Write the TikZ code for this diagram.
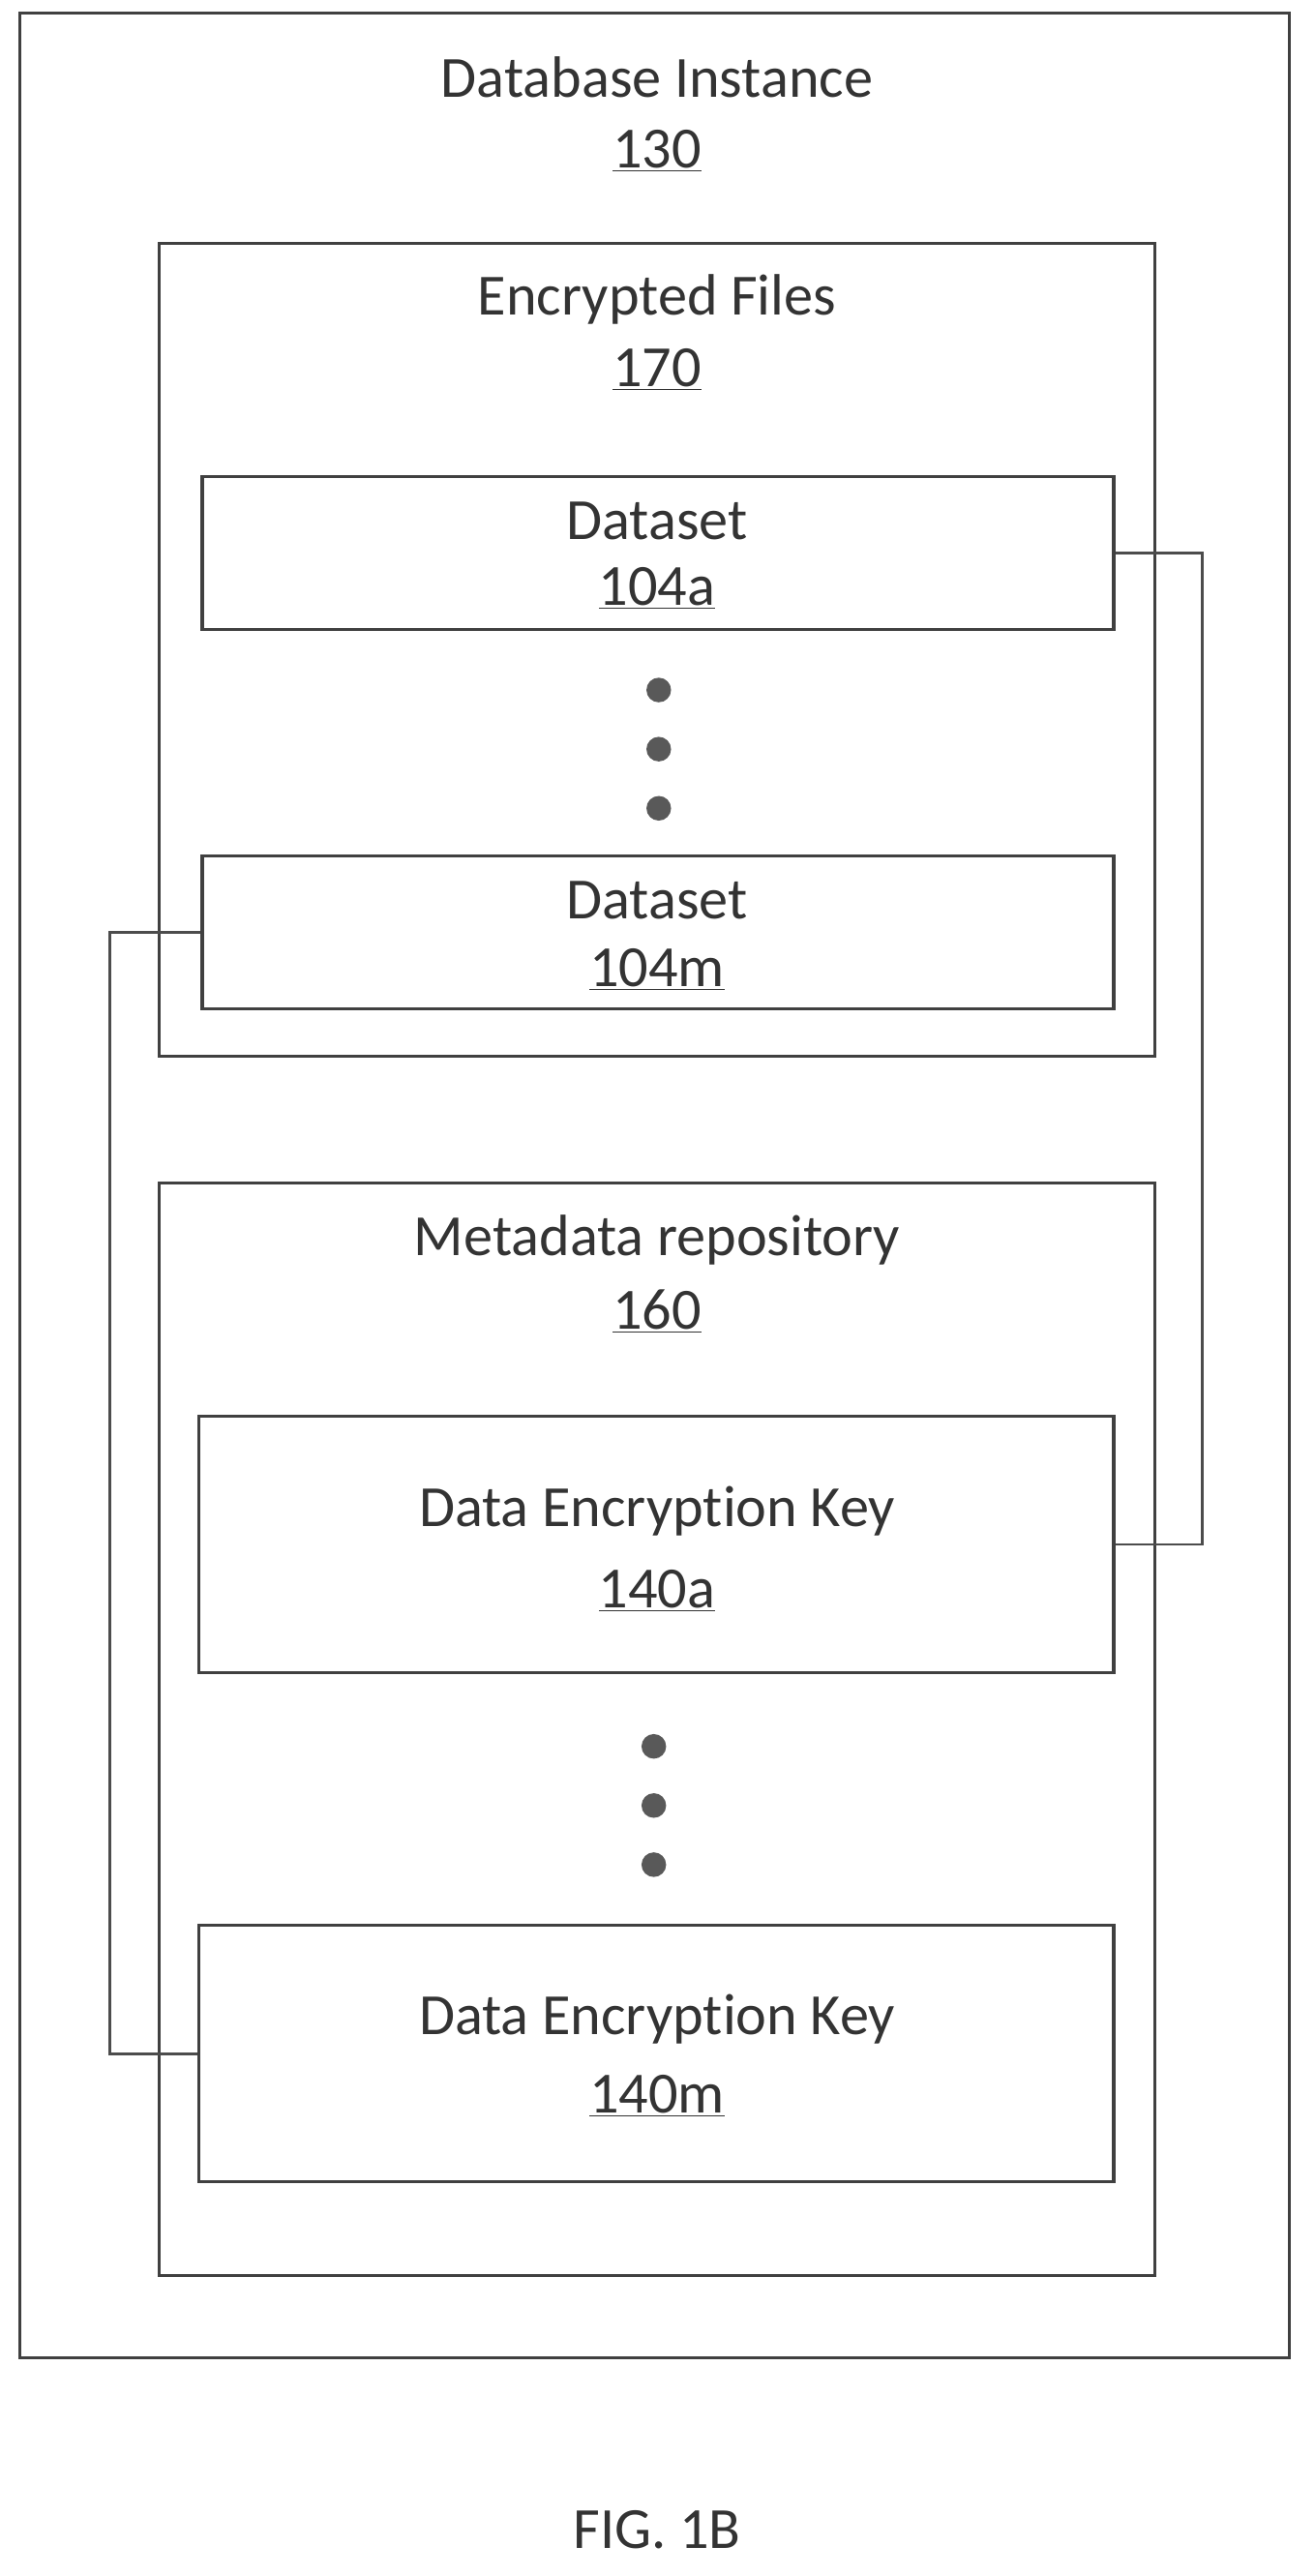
\documentclass[tikz,border=0pt]{standalone}
\usepackage{fontspec}
\setmainfont[Ligatures={NoCommon,NoRare,NoContextual}]{Carlito}
\begin{document}
\begin{tikzpicture}[x=1pt,y=-1pt,
  box/.style={draw=black!75,line width=2pt},
  lbl/.style={font=\fontsize{35.5}{40}\selectfont,text=black!80,inner sep=0pt},
  conn/.style={draw=black!70,line width=1.6pt},
  dot/.style={circle,fill=black!65,minimum size=15pt,inner sep=0pt}]
\useasboundingbox (0,0) rectangle (800,1568);
\draw[box] (12,8) rectangle (785,1435);
\node[lbl] (t130) at (400,47) {Database Instance};
\node[lbl] (n130) at (400,92) {\underline{130}};
\draw[box] (97,148) rectangle (703,643);
\node[lbl] (t170) at (400,182) {Encrypted Files};
\node[lbl] (n170) at (400,225) {\underline{170}};
\node[box,minimum width=555pt,minimum height=93pt,inner sep=0pt] (da) at (400.5,336.5) {};
\node[lbl] at (400,317) {Dataset};
\node[lbl] at (400,358) {\underline{104a}};
\node[dot] (d1) at (401,420) {};
\node[dot] (d2) at (401,456) {};
\node[dot] (d3) at (401,492) {};
\node[box,minimum width=555pt,minimum height=93pt,inner sep=0pt] (dm) at (400.5,567.5) {};
\node[lbl] at (400,548) {Dataset};
\node[lbl] at (400,590) {\underline{104m}};
\draw[box] (97,720) rectangle (703,1385);
\node[lbl] (t160) at (400,755) {Metadata repository};
\node[lbl] (n160) at (400,798) {\underline{160}};
\node[box,minimum width=557pt,minimum height=156pt,inner sep=0pt] (ka) at (399.5,940) {};
\node[lbl] at (400,920) {Data Encryption Key};
\node[lbl] at (400,968) {\underline{140a}};
\node[dot] (e1) at (398,1063) {};
\node[dot] (e2) at (398,1099) {};
\node[dot] (e3) at (398,1135) {};
\node[box,minimum width=557pt,minimum height=156pt,inner sep=0pt] (km) at (399.5,1250) {};
\node[lbl] at (400,1229) {Data Encryption Key};
\node[lbl] at (400,1276) {\underline{140m}};
\draw[conn] (da.east) -- (732,336.5) -- (732,940) -- (ka.east);
\draw[conn] (dm.west) -- (67,567.5) -- (67,1250) -- (km.west);
\node[lbl] (fig) at (400,1540) {FIG. 1B};
\end{tikzpicture}
\end{document}
